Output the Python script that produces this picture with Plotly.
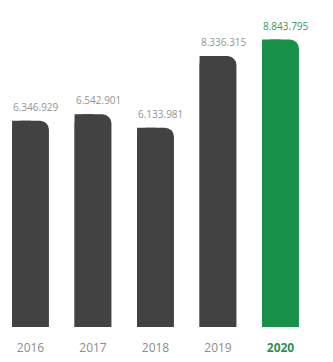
import plotly.graph_objects as go

years = [2016, 2017, 2018, 2019, 2020]
values = [6346929, 6542901, 6133981, 8336315, 8843795]
tick_labels = ["2016", "2017", "2018", "2019", "2020"]

gray = "#424242"
green = "#17904a"
bar_colors = [gray, gray, gray, gray, green]
label_colors = ["#949494", "#949494", "#949494", "#949494", "#2e9a5c"]

BAR_W = 0.59
OFF = -0.295

ticktext = [
    (f"<b><span style='color:#2f8f55'>{t}</span></b>" if i == len(tick_labels) - 1 else t)
    for i, t in enumerate(tick_labels)
]

fig = go.Figure()
# square left half (gives square top-left corner)
fig.add_trace(go.Bar(
    x=years, y=values, width=0.3, offset=OFF,
    marker=dict(color=bar_colors, line=dict(width=0), cornerradius=0),
    hoverinfo="skip", showlegend=False,
))
# main bar with rounded top
fig.add_trace(go.Bar(
    x=years, y=values, width=BAR_W, offset=OFF,
    marker=dict(color=bar_colors, line=dict(width=0), cornerradius=9),
    showlegend=False,
))

for yr, v, c in zip(years, values, label_colors):
    fig.add_annotation(
        x=yr + OFF, y=v, xref="x", yref="y",
        text=f"{v:,}".replace(",", "."),
        xanchor="left", yanchor="bottom", yshift=5, xshift=-1,
        showarrow=False,
        font=dict(family="Open Sans", size=10, color=c),
    )

fig.update_layout(
    width=333, height=362,
    margin=dict(l=0, r=0, t=10, b=35),
    barmode="overlay",
    paper_bgcolor="white", plot_bgcolor="white",
    xaxis=dict(range=[2015.512, 2020.84], tickvals=years, ticktext=ticktext,
               showgrid=False, zeroline=False, showline=False, ticks="",
               ticklabelstandoff=12,
               tickfont=dict(family="Open Sans", size=12, color="#8c8c8c")),
    yaxis=dict(range=[0, 9754000], visible=False, showgrid=False),
)

fig.write_html("out.html")
